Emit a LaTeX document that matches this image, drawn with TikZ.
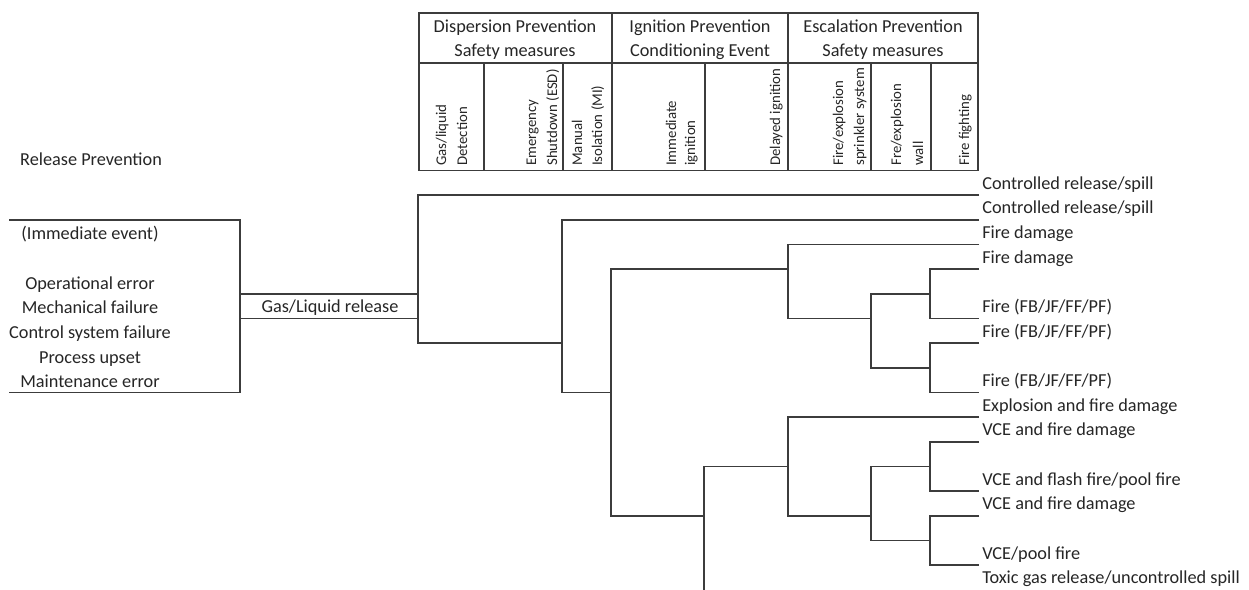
\documentclass[tikz,border=0pt]{standalone}
\usepackage{fontspec}
\setmainfont{Carlito}
\definecolor{txtc}{HTML}{262626}
\definecolor{linec}{HTML}{3C3C3C}
\begin{document}
\begin{tikzpicture}[x=0.75pt,y=-0.75pt,
  ln/.style={draw=linec, line width=1.25pt},
  basefont/.style={font=\fontsize{13.7}{18.45}\selectfont, text=txtc, inner sep=0pt},
  txt/.style={basefont, anchor=base},
  lab/.style={basefont, anchor=base west},
  rot/.style={font=\fontsize{11.1}{15}\selectfont, text=txtc, inner sep=0pt, rotate=90, anchor=base west}]
\useasboundingbox (0,0) rectangle (1249,589);
\fill[white] (0,0) rectangle (1249,589);

% ---------- header table ----------
\draw[ln] (419,13) rectangle (978,170.5);
\draw[ln] (419,63) -- (978,63);
\foreach \x in {612,788} \draw[ln] (\x,13) -- (\x,170.5);
\foreach \x in {484,563,705,871,931} \draw[ln] (\x,63) -- (\x,170.5);

\node[txt] (g1a) at (515,32) {Dispersion Prevention};
\node[txt] (g1b) at (515,56.5) {Safety measures};
\node[txt] (g2a) at (700,32) {Ignition Prevention};
\node[txt] (g2b) at (700,56.5) {Conditioning Event};
\node[txt] (g3a) at (883,32) {Escalation Prevention};
\node[txt] (g3b) at (883,56.5) {Safety measures};

\node[rot] (c1a) at (446,166) {Gas/liquid};
\node[rot] (c1b) at (467,166) {Detection};
\node[rot] (c2a) at (536,166) {Emergency};
\node[rot] (c2b) at (557,166) {Shutdown (ESD)};
\node[rot] (c3a) at (582,166) {Manual};
\node[rot] (c3b) at (602,166) {Isolation (MI)};
\node[rot] (c4a) at (676,166) {Immediate};
\node[rot] (c4b) at (695,166) {ignition};
\node[rot] (c5)  at (780,166) {Delayed ignition};
\node[rot] (c6a) at (843,166) {Fire/explosion};
\node[rot] (c6b) at (864,166) {sprinkler system};
\node[rot] (c7a) at (901,166) {Fre/explosion};
\node[rot] (c7b) at (923,166) {wall};
\node[rot] (c8)  at (969,166) {Fire fighting};

% ---------- left side ----------
\node[txt] (rp) at (91,165) {Release Prevention};
\draw[ln] (9,219.7) -- (240,219.7) -- (240,392.4) -- (9,392.4);
\node[txt] (s1) at (90,239.5) {(Immediate event)};
\node[txt] (s2) at (90,289) {Operational error};
\node[txt] (s3) at (90,313.5) {Mechanical failure};
\node[txt] (s4) at (90,338) {Control system failure};
\node[txt] (s5) at (90,363) {Process upset};
\node[txt] (s6) at (90,387.5) {Maintenance error};

\draw[ln] (240,293.7) -- (418,293.7);
\draw[ln] (240,318.4) -- (418,318.4);
\node[txt] (gl) at (330,312.5) {Gas/Liquid release};

% ---------- tree coordinates ----------
\coordinate (a0) at (418,195.0); \coordinate (a6) at (418,343.1);
\coordinate (b1) at (562,219.7); \coordinate (b6) at (562,343.1); \coordinate (b8) at (562,392.4);
\coordinate (c3) at (611,269.0); \coordinate (c8) at (611,392.4); \coordinate (c13) at (611,515.8);
\coordinate (d2) at (788,244.4); \coordinate (d3) at (788,269.0); \coordinate (d5) at (788,318.4);
\coordinate (f4) at (871,293.7); \coordinate (f5) at (871,318.4); \coordinate (f7) at (871,367.8);
\coordinate (g3) at (930,269.0); \coordinate (g4) at (930,293.7); \coordinate (g5) at (930,318.4);
\coordinate (h6) at (930,343.1); \coordinate (h7) at (930,367.8); \coordinate (h8) at (930,392.4);
\coordinate (e11) at (704,466.5); \coordinate (e13) at (704,515.8); \coordinate (e16) at (704,590.6);
\coordinate (i9) at (788,417.1); \coordinate (i11) at (788,466.5); \coordinate (i13) at (788,515.8);
\coordinate (j11) at (871,466.5); \coordinate (j13) at (871,515.8); \coordinate (j14) at (871,540.5);
\coordinate (k10) at (930,441.8); \coordinate (k11) at (930,466.5); \coordinate (k12) at (930,491.2);
\coordinate (m13) at (930,515.8); \coordinate (m14) at (930,540.5); \coordinate (m15) at (930,565.2);

\coordinate (l0) at (979,195.0);
\coordinate (l1) at (979,219.7);
\coordinate (l2) at (979,244.4);
\coordinate (l3) at (979,269.0);
\coordinate (l5) at (979,318.4);
\coordinate (l6) at (979,343.1);
\coordinate (l8) at (979,392.4);
\coordinate (l9) at (979,417.1);
\coordinate (l10) at (979,441.8);
\coordinate (l12) at (979,491.2);
\coordinate (l13) at (979,515.8);
\coordinate (l15) at (979,565.2);
\coordinate (l16) at (979,590.6);

% ---------- tree connectors ----------
\draw[ln] (l0) -- (a0) -- (a6) -- (b6);
\draw[ln] (l1) -- (b1) -- (b8) -- (c8);
\draw[ln] (d3) -- (c3) -- (c13) -- (e13);
\draw[ln] (l2) -- (d2) -- (d5) -- (f5);
\draw[ln] (g4) -- (f4) -- (f7) -- (h7);
\draw[ln] (l3) -- (g3) -- (g5) -- (l5);
\draw[ln] (l6) -- (h6) -- (h8) -- (l8);
\draw[ln] (i11) -- (e11) -- (e16) -- (l16);
\draw[ln] (l9) -- (i9) -- (i13) -- (j13);
\draw[ln] (k11) -- (j11) -- (j14) -- (m14);
\draw[ln] (l10) -- (k10) -- (k12) -- (l12);
\draw[ln] (l13) -- (m13) -- (m15) -- (l15);

% ---------- outcome labels ----------
\node[lab] (t0)  at (982,189.0) {Controlled release/spill};
\node[lab] (t1)  at (982,213.7) {Controlled release/spill};
\node[lab] (t2)  at (982,238.4) {Fire damage};
\node[lab] (t3)  at (982,263.0) {Fire damage};
\node[lab] (t5)  at (982,312.4) {Fire (FB/JF/FF/PF)};
\node[lab] (t6)  at (982,337.1) {Fire (FB/JF/FF/PF)};
\node[lab] (t8)  at (982,386.4) {Fire (FB/JF/FF/PF)};
\node[lab] (t9)  at (982,411.1) {Explosion and fire damage};
\node[lab] (t10) at (982,435.8) {VCE and fire damage};
\node[lab] (t12) at (982,485.2) {VCE and flash fire/pool fire};
\node[lab] (t13) at (982,509.8) {VCE and fire damage};
\node[lab] (t15) at (982,559.2) {VCE/pool fire};
\node[lab] (t16) at (982,583.9) {Toxic gas release/uncontrolled spill};
\end{tikzpicture}
\end{document}
